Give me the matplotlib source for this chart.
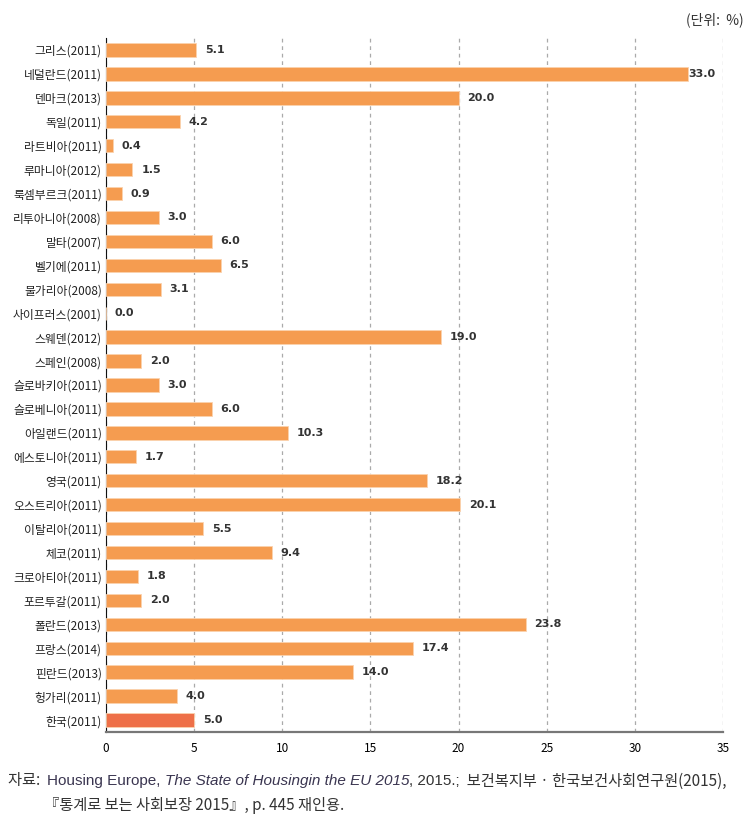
import matplotlib
matplotlib.use('Agg')
from matplotlib import pyplot as plt
import numpy as np

plt.rcParams['font.family'] = ['Noto Sans CJK KR', 'DejaVu Sans']

countries = ['그리스(2011)', '네덜란드(2011)', '덴마크(2013)', '독일(2011)', '라트비아(2011)',
             '루마니아(2012)', '룩셈부르크(2011)', '리투아니아(2008)', '말타(2007)', '벨기에(2011)',
             '불가리아(2008)', '사이프러스(2001)', '스웨덴(2012)', '스페인(2008)', '슬로바키아(2011)',
             '슬로베니아(2011)', '아일랜드(2011)', '에스토니아(2011)', '영국(2011)', '오스트리아(2011)',
             '이탈리아(2011)', '체코(2011)', '크로아티아(2011)', '포르투갈(2011)', '폴란드(2013)',
             '프랑스(2014)', '핀란드(2013)', '헝가리(2011)', '한국(2011)']
values = [5.1, 33.0, 20.0, 4.2, 0.4, 1.5, 0.9, 3.0, 6.0, 6.5,
          3.1, 0.0, 19.0, 2.0, 3.0, 6.0, 10.3, 1.7, 18.2, 20.1,
          5.5, 9.4, 1.8, 2.0, 23.8, 17.4, 14.0, 4.0, 5.0]
xticks = [0, 5, 10, 15, 20, 25, 30, 35]

fig = plt.figure(figsize=(7.55, 8.26), dpi=100)
ax = fig.add_axes([0.1404, 0.1138, 0.8172, 0.8402])

y = np.arange(len(countries))
colors = ['#F59C50'] * (len(countries) - 1) + ['#EE7048']
ax.barh(y, values, height=0.56, color=colors, edgecolor='#FBD2AE', linewidth=0.6, zorder=3)

for yi, v in zip(y, values):
    off = 0.05 if v >= 30 else 0.5
    ax.text(v + off, yi, f'{v:.1f}', va='center', ha='left', fontsize=8,
            fontweight='bold', color='#333333', family='DejaVu Sans', zorder=4)

ax.set_ylim(len(countries) - 0.5, -0.5)
ax.set_xlim(0, 35)
ax.set_xticks(xticks)
ax.set_yticks(y)
ax.set_yticklabels(countries, fontsize=8.5, color='#222222')
ax.tick_params(axis='y', length=0, pad=3)
ax.tick_params(axis='x', length=0, pad=7, labelsize=8.5)
ax.xaxis.grid(True, linestyle=(0, (3, 3)), color='#AAAAAA', linewidth=0.9, zorder=0)
ax.spines['top'].set_visible(False)
ax.spines['right'].set_visible(False)
ax.spines['left'].set_color('#111111')
ax.spines['bottom'].set_color('#777777')
ax.spines['bottom'].set_linewidth(1.6)

fig.text(0.985, 0.985, '(단위:  %)', ha='right', va='top', fontsize=10, color='#333333')

# source note with mixed italics
eng = ['Liberation Sans', 'Noto Sans CJK KR']
parts1 = [('자료:  ', 'normal', '#333333', None), ('Housing Europe, ', 'normal', '#3a3550', eng),
          ('The State of Housingin the EU 2015', 'italic', '#3a3550', eng),
          (', 2015.;', 'normal', '#333333', eng),
          ('  보건복지부 · 한국보건사회연구원(2015),', 'normal', '#333333', None)]
fig.canvas.draw()
r = fig.canvas.get_renderer()
xpos = 8
for txt, style, col, fam in parts1:
    kw = {'family': fam} if fam else {}
    t = fig.text(xpos / 755, 1 - 781 / 826, txt, ha='left', va='center', fontsize=11,
                 style=style, color=col, **kw)
    xpos = t.get_window_extent(renderer=r).x1
fig.text(44 / 755, 1 - 805 / 826, '『통계로 보는 사회보장 2015』, p. 445 재인용.', ha='left',
         va='center', fontsize=11, color='#333333')

fig.savefig('out.png', dpi=100)
